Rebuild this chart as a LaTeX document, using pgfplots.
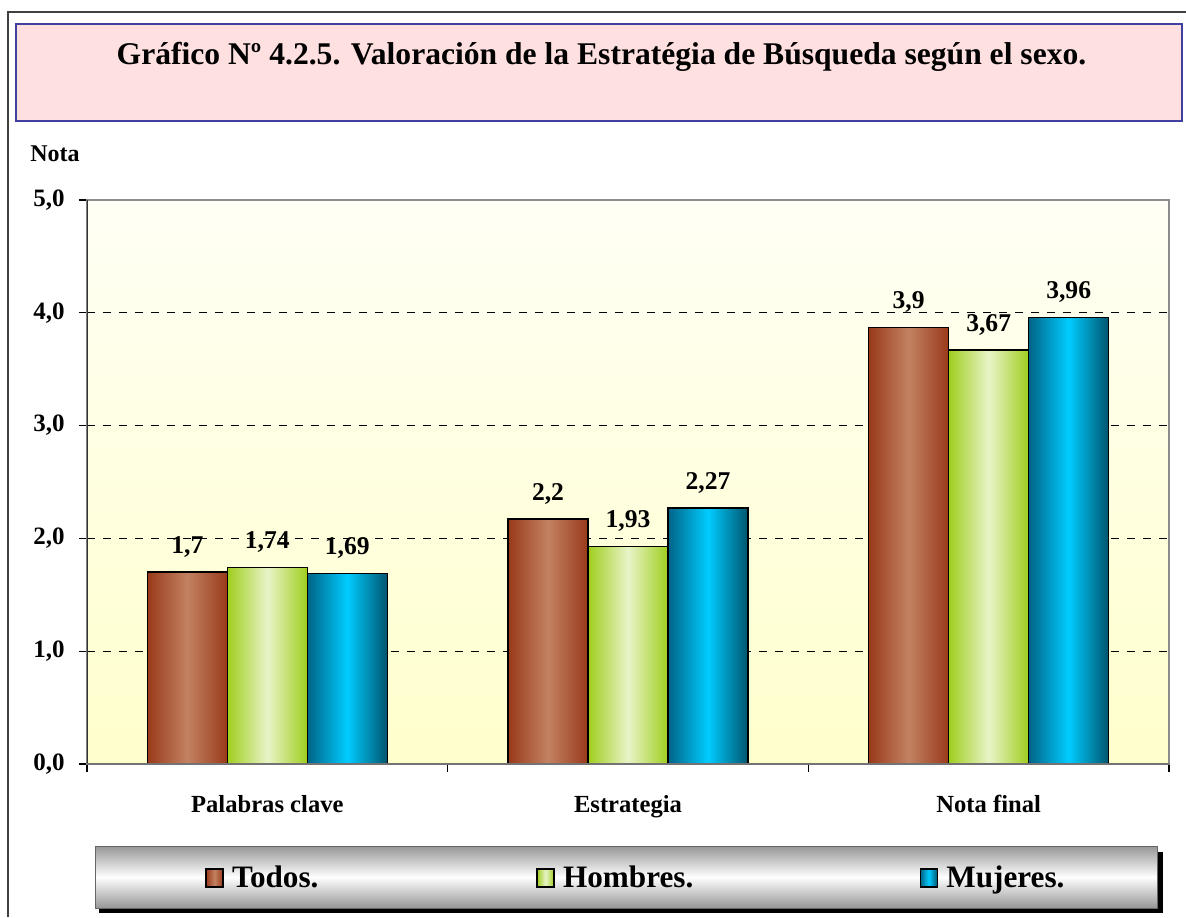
\documentclass[border=0pt]{standalone}
\usepackage{fontspec}
\setmainfont{Liberation Serif}
\usepackage{pgfplots}
\pgfplotsset{compat=1.18}

\definecolor{todosdark}{RGB}{153,58,26}
\definecolor{todoslight}{RGB}{194,130,98}
\definecolor{hombdark}{RGB}{160,206,30}
\definecolor{homblight}{RGB}{232,244,200}
\definecolor{mujdarkL}{RGB}{0,100,135}
\definecolor{mujlight}{RGB}{0,204,255}
\definecolor{mujdarkR}{RGB}{0,85,110}
\definecolor{titlefill}{RGB}{255,224,224}
\definecolor{titledraw}{RGB}{64,64,160}
\definecolor{bgtop}{RGB}{255,255,245}
\definecolor{bgbot}{RGB}{255,255,204}
\definecolor{axgray}{RGB}{140,140,140}
\definecolor{legray}{RGB}{150,150,150}

\pgfplotsset{
  todos/.style={draw=black, line width=0.75pt, left color=todosdark, right color=todosdark, middle color=todoslight, bar shift=-40pt},
  hombres/.style={draw=black, line width=0.75pt, left color=hombdark, right color=hombdark, middle color=homblight, bar shift=0pt},
  mujeres/.style={draw=black, line width=0.75pt, left color=mujdarkL, right color=mujdarkR, middle color=mujlight, bar shift=40pt},
}

\begin{document}
\begin{tikzpicture}
\path[use as bounding box] (0,0) rectangle (593pt,458.5pt);
\fill[white] (0,0) rectangle (593pt,458.5pt);
\draw[line width=1pt, color=black!75] (4pt,0) -- (4pt,452.5pt) -- (593pt,452.5pt);
\filldraw[fill=titlefill, draw=titledraw, line width=0.8pt] (8pt,398pt) rectangle (591pt,446.5pt);
\node[anchor=base, font=\fontsize{15.8}{18}\selectfont\bfseries, inner sep=0pt] at (300.75pt,426pt) {Gráfico Nº 4.2.5. Valoración de la Estratégia de Búsqueda según el sexo.};
\node[anchor=base, font=\fontsize{12}{14}\selectfont\bfseries, inner sep=0pt] at (27.5pt,377.5pt) {Nota};
% legend frame
\fill[black] (49.5pt,2pt) rectangle (581.5pt,32.5pt);
\shade[top color=legray, bottom color=legray, middle color=white] (47.5pt,4.5pt) rectangle (578.5pt,35.5pt);
\draw[black!60, line width=0.5pt] (47.5pt,4.5pt) rectangle (578.5pt,35.5pt);

\begin{axis}[
  at={(43.5pt,76.5pt)}, anchor=south west,
  width=541pt, height=282pt, scale only axis,
  xmin=-0.5, xmax=2.5, ymin=0, ymax=5,
  ybar=0pt, bar width=40pt,
  axis background/.style={shade, top color=bgtop, bottom color=bgbot},
  axis line style={draw=axgray, line width=0.75pt},
  tick align=outside, major tick length=4pt,
  tick style={color=black, line width=0.6pt},
  xtick pos=bottom, ytick pos=left,
  ytick={0,1,2,3,4,5},
  /pgf/number format/.cd, fixed, fixed zerofill, precision=1, use comma, assume math mode=true,
  /pgfplots/.cd,
  yticklabel style={font=\fontsize{12.5}{14}\selectfont\bfseries, anchor=east, inner sep=0pt, xshift=-7pt},
  extra y ticks={1,2,3,4},
  extra y tick labels={},
  extra y tick style={grid=major, major tick length=0pt},
  grid style={dash pattern=on 4pt off 4pt, black, line width=0.5pt},
  xtick={-0.5,0.5,1.5,2.5},
  xticklabels={,,,},
  extra x ticks={0,1,2},
  extra x tick labels={Palabras clave,Estrategia,Nota final},
  extra x tick style={major tick length=0pt, xticklabel style={anchor=base, yshift=-24pt, font=\fontsize{12.3}{14}\selectfont\bfseries}},
  nodes near coords,
  point meta=explicit symbolic,
  every node near coord/.append style={font=\fontsize{12.8}{15}\selectfont\bfseries, inner sep=0pt, text depth=0pt, anchor=south, yshift=9pt},
  legend columns=3,
  legend image code/.code={\draw[#1, line width=0.6pt] (0pt,-3.75pt) rectangle (8.5pt,5.25pt);},
  legend style={draw=none, fill=none, at={(0.1091,-0.2048)}, anchor=west, inner sep=0pt,
    font=\fontsize{15.6}{17}\selectfont\bfseries,
    nodes={text height=10.5pt, text depth=3pt, inner xsep=4.2pt},
    /tikz/column 2/.style={column sep=104.8pt},
    /tikz/column 4/.style={column sep=109pt}},
]
\addplot[todos] coordinates {(0,1.70) [1,7]};
\addlegendentry{Todos.}
\addplot[todos, forget plot] coordinates {(1,2.17) [2,2]};
\addplot[todos, forget plot] coordinates {(2,3.87) [3,9]};
\addplot[hombres] coordinates {(0,1.74) [1,74]};
\addlegendentry{Hombres.}
\addplot[hombres, forget plot] coordinates {(1,1.93) [1,93]};
\addplot[hombres, forget plot] coordinates {(2,3.67) [3,67]};
\addplot[mujeres] coordinates {(0,1.69) [1,69]};
\addlegendentry{Mujeres.}
\addplot[mujeres, forget plot] coordinates {(1,2.27) [2,27]};
\addplot[mujeres, forget plot] coordinates {(2,3.96) [3,96]};
\draw[line width=0.9pt, black!80] (rel axis cs:0,0) -- (rel axis cs:0,1);
\draw[line width=0.75pt, black!55] (rel axis cs:0,0) -- (rel axis cs:1,0);
\end{axis}
\end{tikzpicture}
\end{document}
